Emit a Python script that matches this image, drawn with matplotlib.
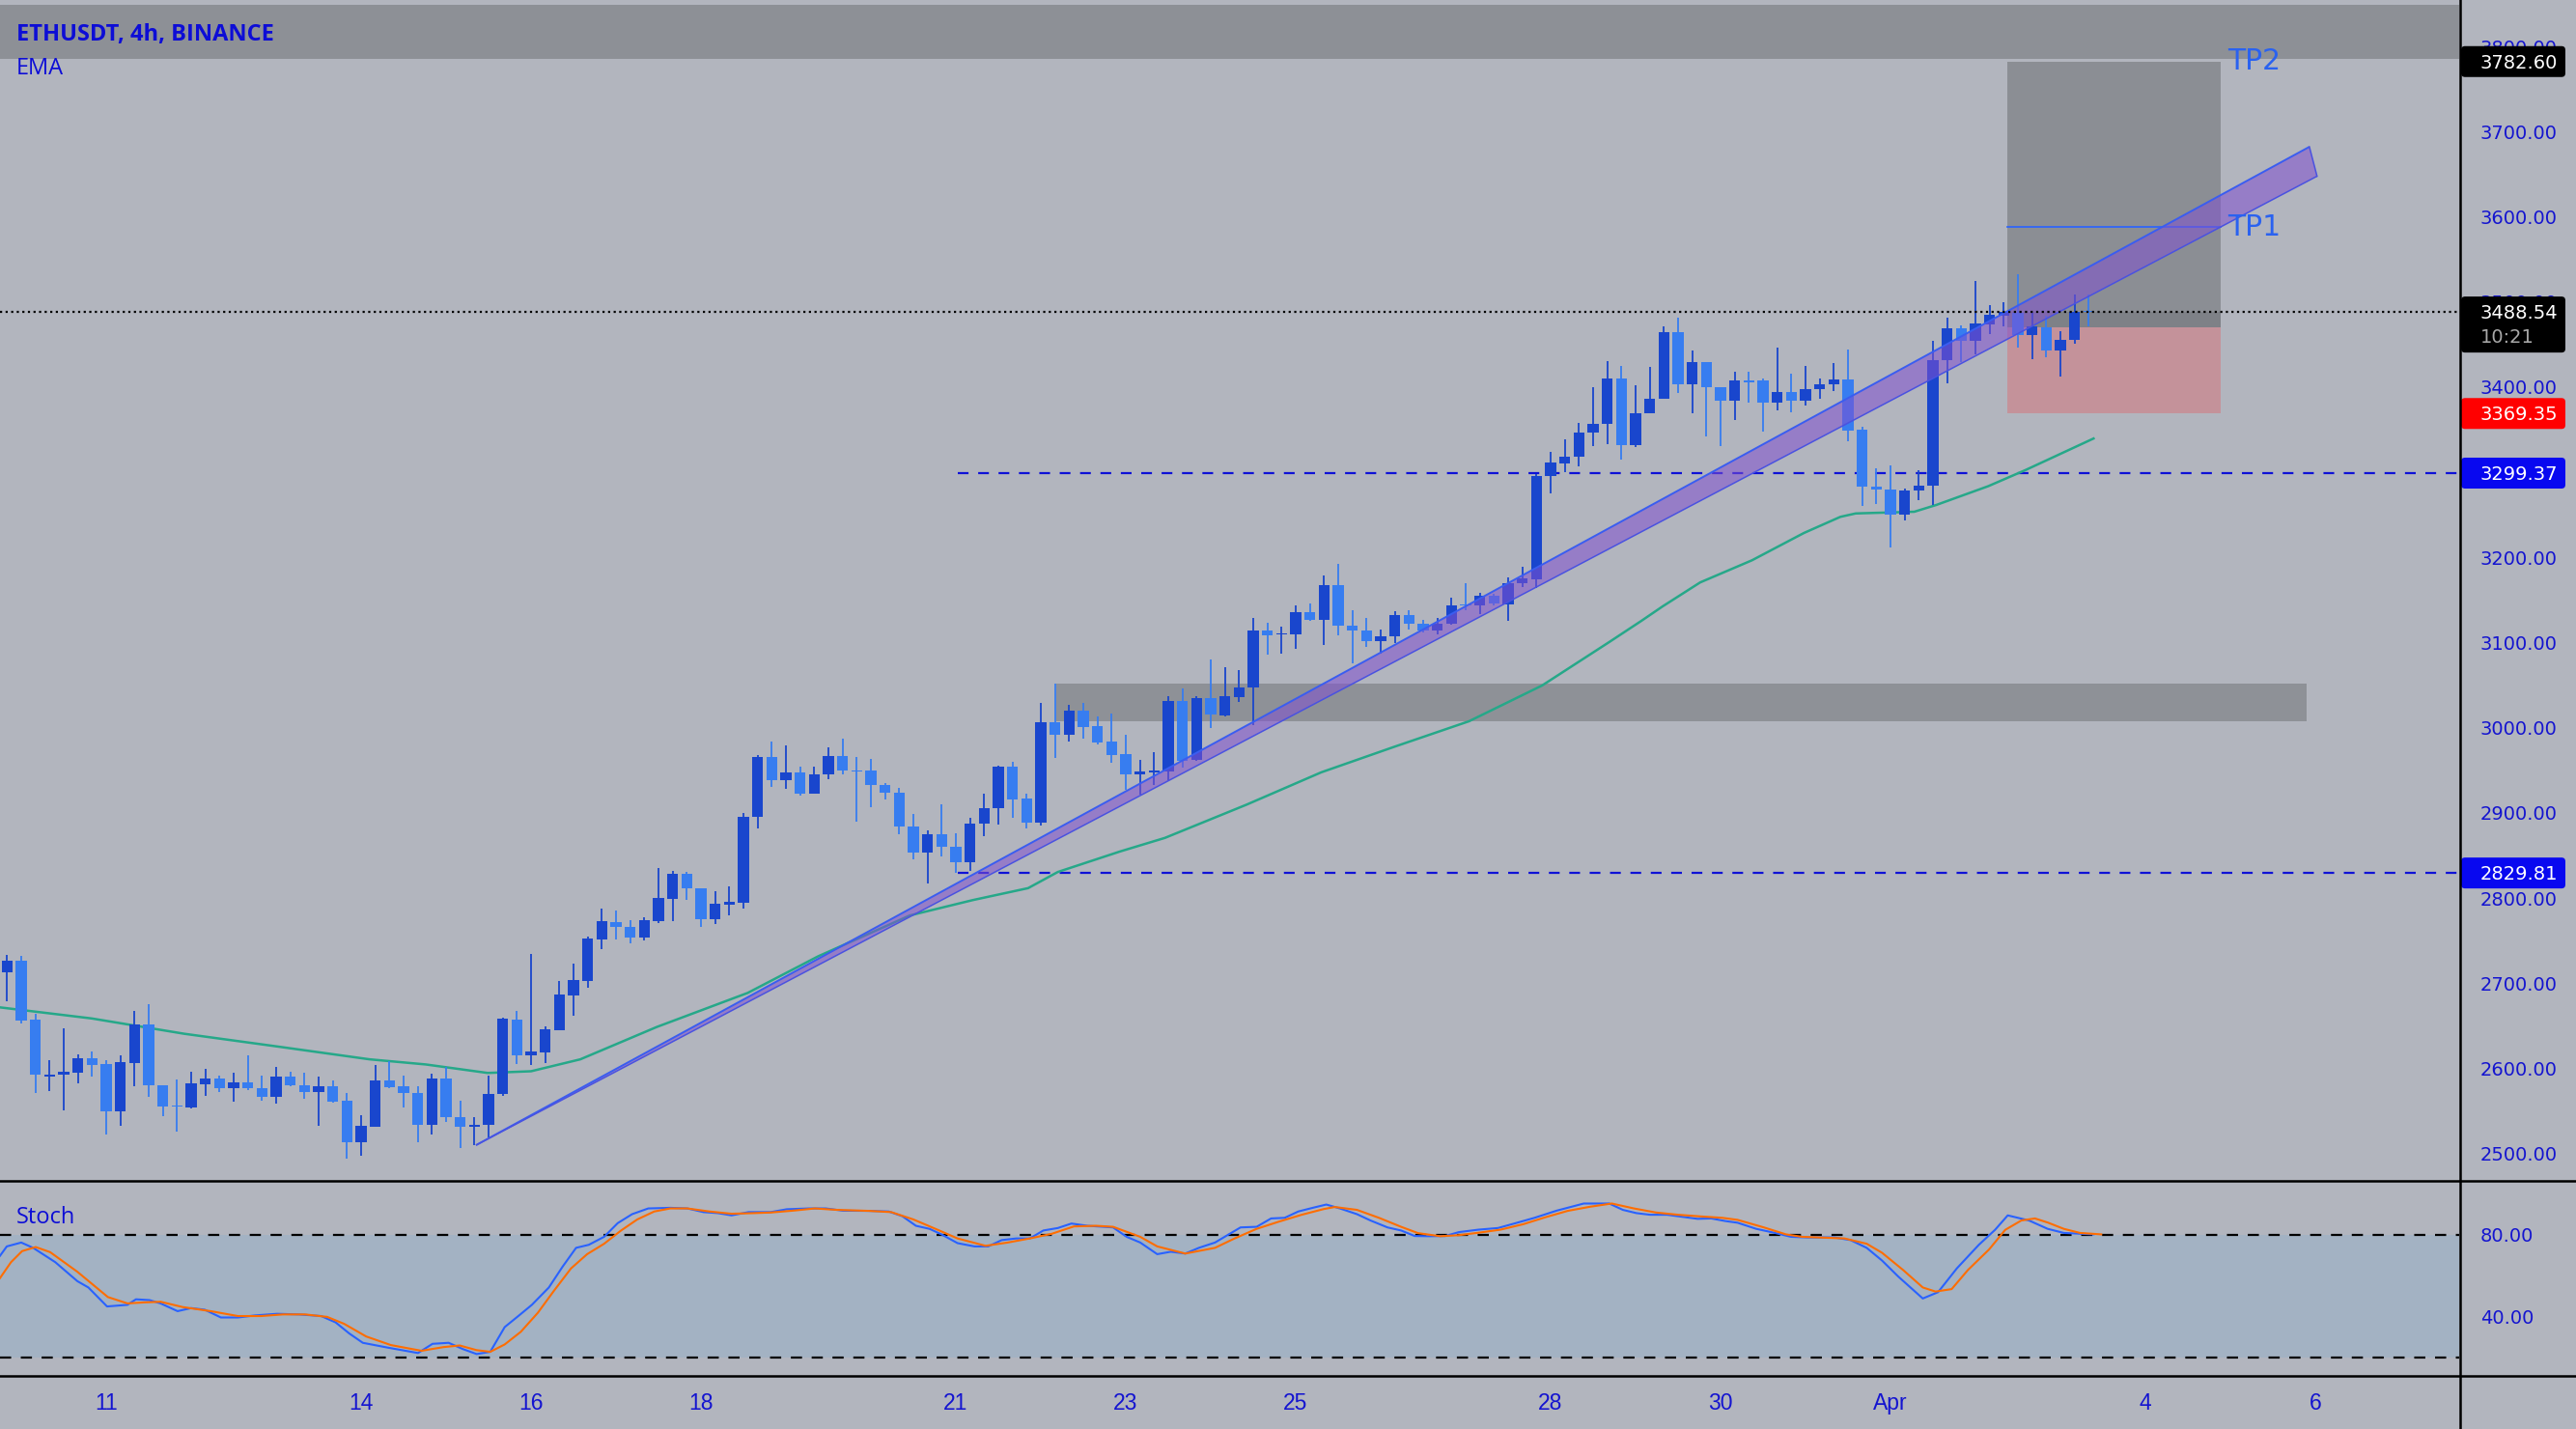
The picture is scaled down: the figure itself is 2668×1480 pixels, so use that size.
import numpy as np
import pandas as pd
import matplotlib
matplotlib.use('Agg')
import matplotlib.pyplot as plt
from matplotlib.patches import Rectangle, Polygon, FancyBboxPatch
from matplotlib.lines import Line2D
from matplotlib.transforms import IdentityTransform

W, H = 2668, 1480
BG = '#b2b5be'

# ---------------- data ----------------
title_text = "ETHUSDT, 4h, BINANCE"
candle_start = "2022-03-09 20:00"
day_zero = "2022-03-11 00:00"

opens = [2713.6, 2726.8, 2657.6, 2591.0, 2592.6, 2595.7, 2612.3, 2605.9, 2550.3, 2607.0,
         2652.3, 2580.5, 2556.0, 2554.8, 2582.0, 2588.0, 2577.5, 2583.6, 2576.8, 2567.3,
         2590.7, 2580.5, 2573.0, 2579.4, 2562.4, 2514.0, 2532.1, 2585.8, 2579.4, 2571.8,
         2534.0, 2588.9, 2542.7, 2531.4, 2534.0, 2570.0, 2657.6, 2616.0, 2619.0, 2645.5,
         2686.3, 2703.0, 2752.0, 2772.0, 2766.4, 2754.3, 2773.2, 2799.7, 2828.8, 2811.8,
         2775.9, 2793.0, 2794.8, 2895.7, 2966.0, 2938.4, 2947.8, 2923.3, 2945.2, 2966.7,
         2950.0, 2949.7, 2932.7, 2924.4, 2884.7, 2853.4, 2875.3, 2860.9, 2842.8, 2888.1,
         2905.5, 2954.6, 2916.8, 2889.3, 3006.4, 2992.4, 3020.4, 3002.6, 2984.5, 2969.7,
         2945.9, 2947.8, 2948.6, 3031.7, 2962.2, 3034.8, 3015.1, 3036.6, 3048.0, 3114.1,
         3109.6, 3109.6, 3136.0, 3127.3, 3167.8, 3119.8, 3114.1, 3102.0, 3107.3, 3133.0,
         3122.4, 3114.1, 3122.4, 3144.8, 3143.6, 3154.9, 3145.0, 3170.0, 3175.0, 3295.5,
         3310.6, 3319.0, 3346.5, 3356.7, 3410.8, 3332.5, 3369.2, 3386.2, 3464.8, 3403.2,
         3429.7, 3400.6, 3384.3, 3408.1, 3408.1, 3382.4, 3394.5, 3384.3, 3397.5, 3403.2,
         3408.9, 3350.3, 3283.4, 3280.4, 3250.2, 3278.5, 3284.2, 3431.6, 3469.4, 3455.0,
         3473.9, 3483.7, 3487.5, 3461.1, 3470.1, 3443.7, 3456.1, 3490.0]
highs = [2734.0, 2732.5, 2664.4, 2609.6, 2647.4, 2617.2, 2619.8, 2609.6, 2616.1, 2668.2,
         2675.8, 2580.5, 2587.0, 2596.4, 2600.0, 2591.9, 2595.3, 2616.0, 2591.9, 2602.0,
         2596.4, 2595.3, 2590.7, 2585.8, 2571.8, 2545.4, 2603.9, 2608.5, 2591.9, 2579.4,
         2594.5, 2602.0, 2562.4, 2542.7, 2591.9, 2660.0, 2667.4, 2734.4, 2649.3, 2703.0,
         2723.0, 2755.0, 2788.4, 2786.0, 2774.0, 2777.8, 2835.2, 2832.6, 2831.0, 2811.8,
         2808.8, 2813.7, 2900.6, 2968.6, 2983.7, 2980.0, 2954.6, 2954.6, 2977.3, 2987.5,
         2966.0, 2963.7, 2935.7, 2929.7, 2898.7, 2879.8, 2910.8, 2876.0, 2894.2, 2923.3,
         2955.4, 2959.9, 2923.3, 3029.0, 3051.8, 3027.2, 3029.0, 3014.0, 3016.6, 2992.4,
         2962.2, 2971.3, 3037.8, 3046.0, 3037.8, 3080.1, 3071.8, 3068.0, 3129.2, 3123.6,
         3118.7, 3143.6, 3146.2, 3179.1, 3192.7, 3138.7, 3129.2, 3116.0, 3137.5, 3138.7,
         3127.3, 3129.2, 3152.7, 3170.0, 3158.7, 3157.6, 3176.5, 3189.7, 3298.0, 3323.9,
         3339.0, 3357.9, 3400.6, 3430.8, 3424.8, 3402.1, 3424.0, 3471.2, 3481.4, 3443.7,
         3429.7, 3400.6, 3418.3, 3418.3, 3410.8, 3446.7, 3415.7, 3424.8, 3410.8, 3428.5,
         3444.8, 3354.1, 3305.0, 3308.7, 3281.2, 3303.0, 3454.2, 3481.5, 3472.4, 3525.3,
         3496.6, 3500.4, 3532.9, 3487.5, 3483.7, 3466.3, 3509.0, 3509.0]
lows = [2679.5, 2653.0, 2571.8, 2573.7, 2551.0, 2583.2, 2590.7, 2522.7, 2532.9, 2579.4,
        2566.9, 2544.3, 2526.5, 2552.9, 2568.0, 2573.0, 2561.3, 2574.9, 2562.4, 2558.6,
        2579.4, 2564.3, 2532.9, 2560.5, 2494.4, 2498.2, 2532.1, 2576.8, 2554.8, 2514.0,
        2522.7, 2537.8, 2506.5, 2510.3, 2518.9, 2568.0, 2605.9, 2604.0, 2607.0, 2645.5,
        2662.5, 2695.0, 2740.7, 2752.0, 2746.8, 2750.6, 2771.0, 2773.2, 2798.6, 2766.4,
        2770.0, 2779.7, 2788.4, 2881.7, 2930.8, 2928.9, 2920.6, 2923.3, 2940.3, 2945.9,
        2890.4, 2907.0, 2915.7, 2875.3, 2845.8, 2817.5, 2849.6, 2829.9, 2832.6, 2873.0,
        2886.6, 2894.2, 2881.7, 2885.5, 2964.8, 2983.7, 2987.5, 2981.0, 2959.2, 2927.1,
        2921.4, 2933.5, 2938.4, 2953.5, 2961.0, 2999.9, 3014.0, 3031.0, 3003.8, 3085.8,
        3087.7, 3093.3, 3125.5, 3097.1, 3108.4, 3076.3, 3095.2, 3086.9, 3099.7, 3116.0,
        3112.2, 3110.3, 3121.7, 3138.7, 3133.8, 3143.6, 3125.5, 3165.1, 3165.0, 3275.9,
        3301.0, 3306.9, 3331.4, 3333.3, 3315.2, 3330.3, 3369.2, 3386.2, 3393.8, 3369.2,
        3342.7, 3331.4, 3361.6, 3382.4, 3348.4, 3373.0, 3370.3, 3378.7, 3386.2, 3395.7,
        3336.3, 3260.7, 3263.4, 3212.4, 3243.4, 3267.2, 3261.5, 3405.1, 3429.7, 3439.1,
        3462.6, 3471.3, 3446.7, 3433.5, 3435.4, 3412.7, 3451.2, 3472.0]
closes = [2726.8, 2656.9, 2592.6, 2593.0, 2596.4, 2612.3, 2604.7, 2550.3, 2607.7, 2652.3,
          2580.2, 2555.6, 2555.6, 2582.4, 2588.0, 2577.5, 2583.6, 2576.8, 2567.3, 2590.7,
          2580.5, 2573.0, 2579.4, 2561.6, 2514.0, 2532.9, 2585.8, 2578.3, 2571.8, 2534.0,
          2588.9, 2542.7, 2531.4, 2534.0, 2570.0, 2658.8, 2616.0, 2619.8, 2646.3, 2687.1,
          2704.1, 2753.2, 2773.2, 2766.4, 2754.3, 2774.0, 2800.5, 2828.8, 2811.8, 2775.9,
          2793.6, 2795.5, 2895.7, 2966.0, 2938.4, 2947.8, 2923.3, 2945.2, 2966.7, 2949.7,
          2949.0, 2932.7, 2924.4, 2884.7, 2853.4, 2875.3, 2860.9, 2842.8, 2888.1, 2906.3,
          2954.6, 2916.5, 2889.3, 3006.4, 2992.4, 3020.4, 3001.5, 2982.6, 2968.6, 2945.9,
          2948.6, 2949.7, 3031.7, 2961.0, 3035.5, 3015.9, 3037.8, 3048.0, 3114.1, 3108.4,
          3111.0, 3136.0, 3127.3, 3167.8, 3119.8, 3114.1, 3102.0, 3107.3, 3133.0, 3122.4,
          3114.1, 3122.4, 3144.3, 3143.6, 3154.9, 3146.2, 3170.0, 3175.3, 3295.5, 3311.4,
          3319.0, 3346.5, 3356.7, 3410.8, 3332.5, 3369.2, 3386.2, 3464.8, 3403.2, 3429.7,
          3400.6, 3384.3, 3408.1, 3406.2, 3382.4, 3394.5, 3384.3, 3397.5, 3403.2, 3408.9,
          3349.2, 3283.4, 3280.4, 3250.2, 3278.5, 3284.2, 3432.3, 3469.4, 3455.0, 3475.0,
          3485.3, 3488.3, 3461.1, 3471.3, 3443.7, 3456.1, 3489.0, 3488.5]

# EMA (days since Mar 11, price)
ema_days = [-1.25, -0.17, 0.92, 2.02, 3.10, 3.76, 4.49, 5.00, 5.58, 6.48, 7.55, 8.38, 9.46,
            10.20, 10.85, 11.20, 11.93, 12.46, 13.42, 14.30, 15.16, 16.04, 16.90, 17.69,
            18.07, 18.32, 18.76, 19.37, 19.98, 20.41, 20.59, 21.28, 21.54, 22.15, 22.59, 23.39]
ema_vals = [2672, 2659, 2641, 2626, 2611, 2605, 2595, 2597, 2611, 2649, 2689, 2732, 2780,
            2798, 2812, 2831, 2855, 2871, 2910, 2948, 2978, 3008, 3050, 3101,
            3126, 3143, 3171, 3197, 3229, 3248, 3252, 3254, 3262, 3284, 3303, 3340]

# Stochastic %K
k_days = [-1.25, -1.17, -1.00, -0.86, -0.60, -0.34, -0.21, 0.01, 0.25, 0.35,
          0.51, 0.64, 0.84, 1.00, 1.16, 1.35, 1.55, 1.75, 2.01, 2.27,
          2.53, 2.70, 2.86, 3.02, 3.32, 3.67, 3.84, 4.03, 4.20, 4.36,
          4.52, 4.69, 4.85, 5.01, 5.21, 5.37, 5.53, 5.68, 5.86, 6.02,
          6.19, 6.38, 6.64, 6.84, 7.03, 7.20, 7.36, 7.56, 7.82, 8.01,
          8.27, 8.47, 8.67, 8.98,
          9.21, 9.37, 9.53, 9.69, 9.83, 10.02, 10.22, 10.38, 10.54, 10.71,
          10.87, 11.03, 11.20, 11.36, 11.55, 11.85, 12.01, 12.17, 12.37, 12.53,
          12.70, 12.86, 13.05, 13.35, 13.54, 13.71, 13.87, 14.03, 14.20, 14.36,
          14.52, 14.72, 14.88, 15.08, 15.24, 15.40, 15.57, 15.76, 15.92, 16.15,
          16.38, 16.58, 16.81, 17.07, 17.39, 17.69, 17.85, 18.01, 18.17, 18.37,
          18.57, 18.73, 18.89, 19.06, 19.20,
          19.42, 19.64, 19.83, 20.02, 20.34, 20.53, 20.72, 20.90, 21.09, 21.38,
          21.56, 21.78, 22.04, 22.23, 22.38, 22.63, 22.85, 23.04, 23.23, 23.39]
k_vals = [69.8, 74.4, 76.3, 73.7, 66.7, 57.4, 54.3, 45.0, 45.8, 48.5,
          48.1, 46.5, 42.7, 44.2, 43.4, 39.6, 39.6, 40.6, 41.4, 41.1,
          40.3, 37.2, 31.8, 27.2, 24.8, 22.2, 26.7, 27.2, 24.1, 21.7,
          22.8, 34.9, 40.3, 45.8, 54.3, 64.4, 73.7, 75.2, 79.1, 85.8,
          90.2, 93.0, 93.3, 93.0, 91.2, 90.7, 89.6, 91.2, 91.2, 92.6,
          93.0, 93.0, 91.9, 91.8,
          91.5, 89.2, 84.5, 83.0, 80.3, 76.0, 74.4, 74.4, 77.5, 78.3,
          78.3, 82.2, 83.4, 85.6, 84.5, 83.7, 79.1, 76.3, 70.6, 71.8,
          70.9, 73.7, 76.3, 83.7, 84.0, 88.1, 88.4, 91.5, 93.3, 94.9,
          93.0, 90.2, 87.1, 83.7, 82.2, 79.5, 79.4, 79.5, 81.4, 82.6,
          83.4, 85.7, 88.4, 91.9, 95.4, 95.4, 92.3, 90.7, 89.9, 89.9,
          88.8, 87.9, 88.1, 86.8, 86.0,
          83.0, 81.0, 79.1, 78.8, 78.8, 77.5, 73.7, 67.5, 59.7, 48.9,
          52.0, 63.6, 75.2, 82.5, 89.6, 87.1, 83.0, 81.0, 80.6, 80.3]

# Stochastic %D
d_days = [-1.25, -1.12, -0.99, -0.83, -0.66, -0.34, 0.02, 0.25, 0.45, 0.64,
          0.90, 1.23, 1.55, 1.82, 2.08, 2.34, 2.60, 2.80, 3.06, 3.35,
          3.71, 3.97, 4.16, 4.36, 4.52, 4.69, 4.88, 5.08, 5.27, 5.47,
          5.66, 5.86, 6.06, 6.25, 6.45, 6.64, 6.84, 7.10, 7.36, 7.62,
          7.82, 8.08, 8.34, 8.60, 8.98,
          9.24, 9.50, 9.76, 10.02, 10.35, 10.61, 10.87, 11.13, 11.39, 11.65,
          11.85, 12.17, 12.37, 12.70, 13.05, 13.28, 13.54, 13.80, 14.07, 14.33,
          14.46, 14.72, 14.98, 15.24, 15.44, 15.70, 15.92, 16.15, 16.41, 16.68,
          16.94, 17.20, 17.46, 17.72, 17.98, 18.24, 18.50, 18.76, 19.02, 19.20,
          19.51, 19.77, 19.96, 20.15, 20.46, 20.72, 20.90, 21.15, 21.38, 21.53,
          21.72, 21.91, 22.16, 22.35, 22.54, 22.70, 22.85, 23.04, 23.23, 23.48]
d_vals = [58.9, 66.7, 72.1, 74.1, 71.6, 62.0, 49.6, 46.5, 47.0, 47.3,
          44.7, 42.7, 40.3, 40.3, 41.1, 41.1, 39.9, 36.5, 30.3, 26.1,
          23.3, 25.1, 25.9, 23.6, 22.8, 26.4, 32.6, 41.9, 52.7, 63.6,
          70.6, 75.7, 82.2, 87.6, 91.5, 93.0, 93.0, 91.5, 90.4, 90.7,
          91.0, 91.9, 93.0, 92.3, 91.8,
          91.2, 87.6, 83.0, 78.3, 74.7, 76.3, 78.3, 80.6, 84.2, 84.5,
          84.0, 79.1, 74.4, 70.9, 73.7, 78.3, 83.0, 86.5, 89.9, 92.7,
          93.7, 92.3, 88.4, 84.0, 80.9, 79.4, 79.9, 81.1, 82.6, 85.3,
          88.7, 91.8, 93.8, 95.4, 93.0, 91.0, 89.9, 89.1, 88.4, 87.4,
          83.7, 80.3, 79.1, 78.8, 78.3, 75.7, 71.3, 62.8, 54.3, 52.3,
          53.5, 62.8, 72.9, 82.5, 87.1, 88.1, 86.1, 83.0, 81.0, 80.3]

# axis labels
price_ticks = [2500, 2600, 2700, 2800, 2900, 3000, 3100, 3200, 3300, 3400, 3500, 3600, 3700, 3800]
stoch_ticks = [80, 40]
time_tick_days = [0, 3, 5, 7, 10, 12, 14, 17, 19, 21, 24, 26]
time_tick_labels = ['11', '14', '16', '18', '21', '23', '25', '28', '30', 'Apr', '4', '6']

# drawings
top_zone = (3786.0, 3849.0)
mid_zone = (11.18, 25.90, 3008.0, 3052.0)
level_start_day = 10.02
level_a = 3299.37
level_b = 2829.81
current_price = 3488.54
countdown = "10:21"
pos_days = (22.375, 24.886)
pos_entry, pos_target, pos_stop, pos_tp1 = 3470.5, 3782.60, 3369.35, 3588.0
channel_start = (4.352, 2510.2)
channel_upper_end = (25.93, 3682.5)
channel_lower_end = (26.02, 3648.0)

# ---------------- figure ----------------
UP = '#1946cd'
DOWN = '#377df0'
TXT = '#1414d0'

fig = plt.figure(figsize=(W / 100, H / 100), dpi=100, facecolor=BG)
ax = fig.add_axes([0, 1 - 1223 / H, 2547 / W, 1223 / H])
axs = fig.add_axes([0, 1 - 1425 / H, 2547 / W, 202 / H])
XL = (-1.25, 27.693)
for a in (ax, axs):
    a.set_facecolor(BG)
    a.set_xticks([])
    a.set_yticks([])
    for s in a.spines.values():
        s.set_visible(False)
    a.set_xlim(*XL)
ax.set_ylim(2468.3, 3854.9)
axs.set_ylim(11.0, 106.5)

dates = pd.date_range(candle_start, periods=len(opens), freq='4h')
x = np.asarray((dates - pd.Timestamp(day_zero)) / pd.Timedelta('1D'), dtype=float)
o = np.array(opens); h = np.array(highs); l = np.array(lows); c = np.array(closes)
cols = np.where(c >= o, UP, DOWN)

# zones
ax.add_patch(Rectangle((XL[0], top_zone[0]), XL[1] - XL[0], top_zone[1] - top_zone[0],
                       fc='#8d9096', ec='none', zorder=1))
ax.add_patch(Rectangle((mid_zone[0], mid_zone[2]), mid_zone[1] - mid_zone[0], mid_zone[3] - mid_zone[2],
                       fc='#8e9197', ec='none', zorder=1))

# position tool
pw = pos_days[1] - pos_days[0]
ax.add_patch(Rectangle((pos_days[0], pos_entry), pw, pos_target - pos_entry, fc='#8b8e94', ec='none', zorder=1.2))
ax.add_patch(Rectangle((pos_days[0], pos_entry), pw, current_price - pos_entry, fc='#7e8187', ec='none', zorder=1.3))
ax.add_patch(Rectangle((pos_days[0], pos_stop), pw, pos_entry - pos_stop, fc='#c4929a', ec='none', zorder=1.2))
ax.plot(pos_days, [pos_tp1, pos_tp1], color='#2962ff', lw=1.2, zorder=1.4)
ax.text(pos_days[1] + 0.08, pos_target, 'TP2', color='#2a62f0', fontsize=21.5,
        family='DejaVu Sans', va='center', ha='left', zorder=8)
ax.text(pos_days[1] + 0.08, pos_tp1, 'TP1', color='#2a62f0', fontsize=21.5,
        family='DejaVu Sans', va='center', ha='left', zorder=8)

# levels
ax.plot([level_start_day, XL[1]], [level_a, level_a], color='#0f12d6', lw=1.6, dashes=(5, 4.5), zorder=2)
ax.plot([level_start_day, XL[1]], [level_b, level_b], color='#0f12d6', lw=1.6, dashes=(5, 4.5), zorder=2)

# EMA
ax.plot(ema_days, ema_vals, color='#26a889', lw=1.8, zorder=2.5)

# candles
ax.vlines(x, l, h, colors=cols, lw=1.3, zorder=3)
ax.bar(x, np.maximum(np.abs(c - o), 1.3), bottom=np.minimum(o, c), width=0.13,
       color=cols, linewidth=0, zorder=4)

# channel
ax.add_patch(Polygon([channel_start, channel_upper_end, channel_lower_end], closed=True,
                     fc='#8050d0', alpha=0.55, ec='none', zorder=5))
ax.plot([channel_start[0], channel_upper_end[0]], [channel_start[1], channel_upper_end[1]],
        color='#3a5df0', lw=1.4, zorder=6, solid_capstyle='butt')
ax.plot([channel_start[0], channel_lower_end[0]], [channel_start[1], channel_lower_end[1]],
        color='#4a52e0', lw=1.1, zorder=6, solid_capstyle='butt')
ax.plot([channel_upper_end[0], channel_lower_end[0]], [channel_upper_end[1], channel_lower_end[1]],
        color='#4a52e0', lw=1.1, zorder=6)

# current price line
ax.axhline(current_price, color='black', lw=1.6, dashes=(1, 1.6), zorder=7)

# stoch panel
axs.axhspan(20, 80, color='#a3b2c3', zorder=1, lw=0)
axs.axhline(80, color='black', lw=1.6, dashes=(5.2, 4.5), zorder=2)
axs.axhline(20, color='black', lw=1.6, dashes=(5.2, 4.5), zorder=2)
axs.plot(k_days, k_vals, color='#2962ff', lw=1.5, zorder=3)
axs.plot(d_days, d_vals, color='#ff6d00', lw=1.5, zorder=4)

# ---------------- frame lines ----------------
ID = IdentityTransform()
for yy in (1223, 1425):
    fig.add_artist(Line2D([0, W], [H - yy, H - yy], transform=ID, color='black', lw=1.8, zorder=10))
fig.add_artist(Line2D([2548, 2548], [0, H], transform=ID, color='black', lw=1.8, zorder=10))

# ---------------- texts ----------------
def pt2px(fs):
    return fs * 100 / 72.0

PFS = 14
def ylab(a, v):
    return a.transData.transform((0, v))[1]

for v in price_ticks:
    yd = ylab(ax, v)
    fig.text(2569, yd - 0.365 * pt2px(PFS), f'{v:.2f}', transform=ID, color=TXT, fontsize=PFS,
             family='DejaVu Sans', ha='left', va='baseline', zorder=3)
for v in stoch_ticks:
    yd = ylab(axs, v)
    fig.text(2569, yd - 0.365 * pt2px(PFS), f'{v:.2f}', transform=ID, color=TXT, fontsize=PFS,
             family='DejaVu Sans', ha='left', va='baseline', zorder=3)

TFS = 16.5
for d, s in zip(time_tick_days, time_tick_labels):
    xd = ax.transData.transform((d, 0))[0]
    fig.text(xd, H - 1452 - 0.358 * pt2px(TFS), s, transform=ID, color=TXT, fontsize=TFS,
             family='Liberation Sans', ha='center', va='baseline', zorder=3)

def price_box(price, label, color, hgt=32, top_off=16, sub=None):
    yd = ylab(ax, price)
    fig.add_artist(FancyBboxPatch((2549, yd + top_off - hgt), 108, hgt,
                                  boxstyle='round,pad=0,rounding_size=4', transform=ID,
                                  fc=color, ec='none', zorder=5))
    fig.text(2569, yd - 0.365 * pt2px(PFS), label, transform=ID, color='white', fontsize=PFS,
             family='DejaVu Sans', ha='left', va='baseline', zorder=6)
    if sub is not None:
        fig.text(2569, yd - 25 - 0.365 * pt2px(PFS), sub, transform=ID, color='#a8a8a8',
                 fontsize=PFS, family='DejaVu Sans', ha='left', va='baseline', zorder=6)

price_box(pos_target, f'{pos_target:.2f}', 'black')
price_box(current_price, f'{current_price:.2f}', 'black', hgt=58, top_off=16, sub=countdown)
price_box(pos_stop, f'{pos_stop:.2f}', '#ff0000')
price_box(level_a, f'{level_a:.2f}', '#0808f0')
price_box(level_b, f'{level_b:.2f}', '#0808f0')

LFS = 17
fig.text(17, H - 42, title_text, transform=ID, color='#0d0dd6', fontsize=LFS,
         family='Open Sans', weight='bold', ha='left', va='baseline', zorder=6)
fig.text(17, H - 77, 'EMA', transform=ID, color='#0d0dd6', fontsize=LFS,
         family='Open Sans', ha='left', va='baseline', zorder=6)
fig.text(17, H - 1267, 'Stoch', transform=ID, color='#0d0dd6', fontsize=LFS,
         family='Open Sans', ha='left', va='baseline', zorder=6)

fig.savefig('out.png', dpi=100, facecolor=BG)
